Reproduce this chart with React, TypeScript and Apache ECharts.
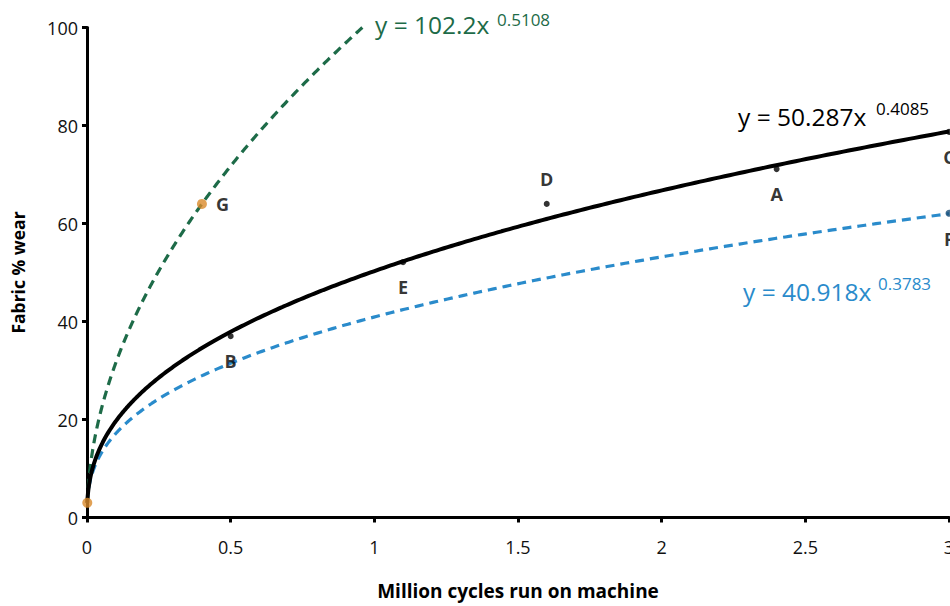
import React, { useEffect, useRef } from "react";
import * as echarts from "echarts";

// Measured points
const blackLabels = ["B", "E", "D", "A", "C"];
const blackX = [0.5, 1.1, 1.6, 2.4, 3.0];
const blackY = [37, 52.1, 64, 71.1, 78.7];
const blackLabelPos = ["bottom", "bottom", "top", "bottom", "bottom"];

const blueLabels = ["F"];
const blueX = [3.0];
const blueY = [62.1];

const orangeLabels = ["", "G"];
const orangeX = [0.001, 0.4];
const orangeY = [3, 64];

// Trendline equations shown on the chart
const blackCoef = 50.287, blackExp = 0.4085;
const blueCoef = 40.918, blueExp = 0.3783;
const greenCoef = 102.2, greenExp = 0.5108;

const xTicks = { min: 0, max: 3, interval: 0.5 };
const yTicks = { min: 0, max: 100, interval: 20 };

const FONT = "'Open Sans', 'Noto Sans', sans-serif";

function trend(a: number, b: number, x0: number, x1: number) {
  const pts: number[][] = [];
  const n = 300;
  for (let i = 0; i <= n; i++) {
    const t = i / n;
    const x = x0 + (x1 - x0) * t * t;
    pts.push([x, a * Math.pow(x, b)]);
  }
  return pts;
}

export default function App() {
  const ref = useRef<HTMLDivElement>(null);
  useEffect(() => {
    if (!ref.current) return;
    const chart = echarts.init(ref.current, null, { renderer: "svg" });
    const greenEnd = Math.pow(yTicks.max / greenCoef, 1 / greenExp);
    const eq = (x: number, y: number, main: string, sup: string, color: string, mainW: number, supDy: number) => ({
      type: "group",
      x,
      y,
      children: [
        { type: "text", x: 0, y: 0, style: { text: main, fill: color, fontSize: 24.5, fontFamily: FONT, verticalAlign: "middle", align: "left" } },
        { type: "text", x: mainW, y: supDy, style: { text: sup, fill: color, fontSize: 17, fontFamily: FONT, verticalAlign: "middle", align: "left" } },
      ],
    });
    chart.setOption({
      animation: false,
      grid: { left: 87, right: 1, top: 27.5, bottom: 88.5, outerBoundsMode: "none", containLabel: false },
      xAxis: {
        type: "value",
        ...xTicks,
        name: "Million cycles run on machine",
        nameLocation: "middle",
        nameGap: 64,
        nameTextStyle: { fontFamily: FONT, fontWeight: "bold", fontSize: 19, color: "#000" },
        axisLine: { lineStyle: { color: "#000", width: 3 } },
        axisTick: { show: true, length: 5, lineStyle: { color: "#000", width: 3 } },
        axisLabel: { fontFamily: FONT, fontSize: 18, color: "#111", margin: 20 },
        splitLine: { show: false },
      },
      yAxis: {
        type: "value",
        ...yTicks,
        name: "Fabric % wear",
        nameLocation: "middle",
        nameGap: 60,
        nameTextStyle: { fontFamily: FONT, fontWeight: "bold", fontSize: 17.5, color: "#000" },
        axisLine: { show: true, lineStyle: { color: "#000", width: 3 } },
        axisTick: { show: true, length: 5, lineStyle: { color: "#000", width: 3 } },
        axisLabel: { fontFamily: FONT, fontSize: 18, color: "#111", margin: 9 },
        splitLine: { show: false },
      },
      series: [
        {
          type: "line",
          data: trend(greenCoef, greenExp, 0.001, greenEnd),
          showSymbol: false,
          lineStyle: { color: "#1d6b48", width: 3.2, type: [9, 6] },
          z: 2,
        },
        {
          type: "line",
          data: trend(blueCoef, blueExp, 0.001, 3),
          showSymbol: false,
          lineStyle: { color: "#2a8bcb", width: 3.2, type: [9, 6] },
          z: 2,
        },
        {
          type: "line",
          data: trend(blackCoef, blackExp, 0.001, 3),
          showSymbol: false,
          lineStyle: { color: "#000", width: 4 },
          z: 3,
        },
        {
          type: "scatter",
          data: blackX.map((x, i) => ({
            value: [x, blackY[i]],
            label: { position: blackLabelPos[i], formatter: blackLabels[i] },
          })),
          symbolSize: 6,
          itemStyle: { color: "#000" },
          label: { show: true, fontFamily: FONT, fontWeight: "bold", fontSize: 18, color: "#000", distance: 13 },
          z: 5,
        },
        {
          type: "scatter",
          data: blueX.map((x, i) => ({ value: [x, blueY[i]], label: { formatter: blueLabels[i] } })),
          symbolSize: 7,
          itemStyle: { color: "#1b4f78" },
          label: { show: true, position: "bottom", fontFamily: FONT, fontWeight: "bold", fontSize: 18, color: "#000", distance: 13 },
          z: 5,
        },
        {
          type: "scatter",
          data: orangeX.map((x, i) => ({ value: [x, orangeY[i]], label: { formatter: orangeLabels[i] } })),
          symbolSize: 10,
          itemStyle: { color: "#d98a2b" },
          label: { show: true, position: "right", fontFamily: FONT, fontWeight: "bold", fontSize: 18, color: "#000", distance: 9 },
          z: 6,
        },
      ],
      graphic: [
        eq(375, 24, "y = 102.2x", "0.5108", "#1d6b48", 122, -5),
        eq(738, 116, "y = 50.287x", "0.4085", "#000", 138, -8),
        eq(743, 291, "y = 40.918x", "0.3783", "#2a8bcb", 135, -8),
      ],
    });
    return () => chart.dispose();
  }, []);
  return <div ref={ref} style={{ position: "fixed", left: 0, top: 0, width: 950, height: 606, background: "#fff" }} />;
}
